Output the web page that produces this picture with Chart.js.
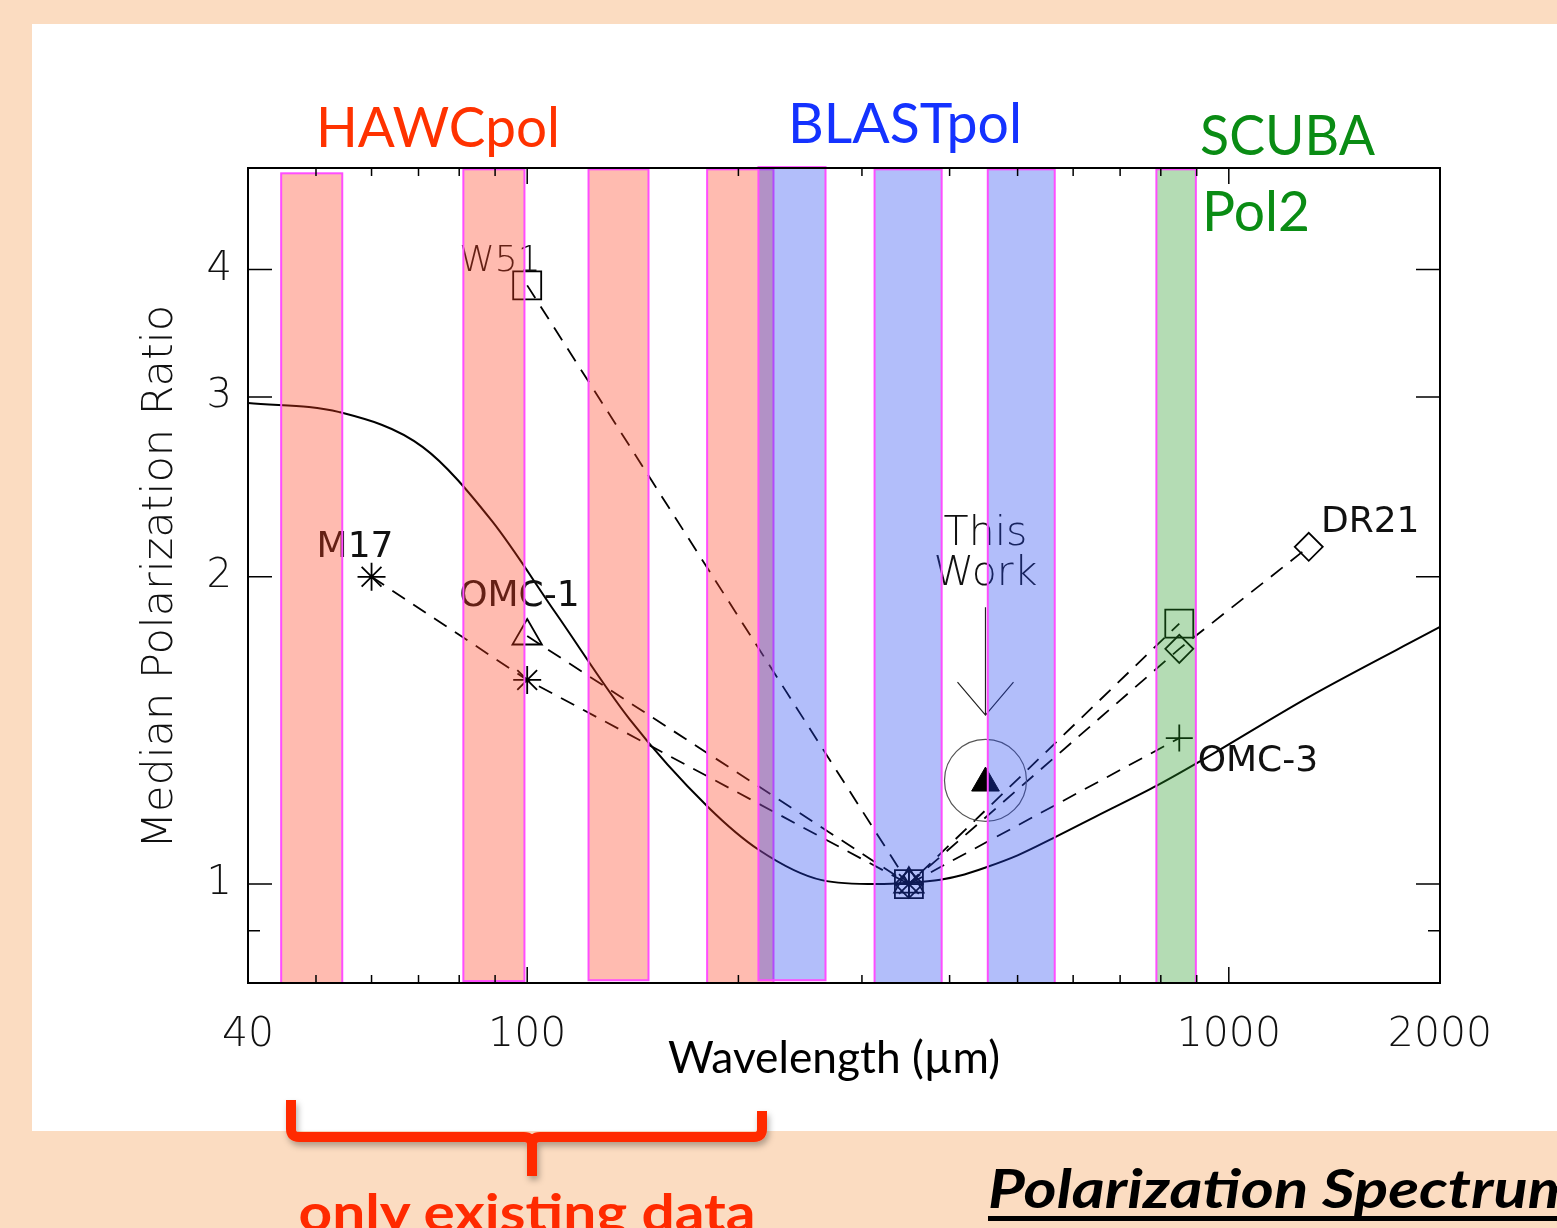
<!DOCTYPE html>
<html>
<head>
<meta charset="utf-8">
<title>Polarization Spectrum</title>
<script src="https://cdn.jsdelivr.net/npm/chart.js@4"></script>
<style>
  body{margin:0;width:1557px;height:1228px;overflow:hidden;position:relative;background:#fbdcc1;}
  #panel{position:absolute;left:32px;top:24px;width:1525px;height:1107px;background:#fff;}
  #wrap{position:absolute;left:0;top:0;width:1557px;height:1228px;}
  #deco{position:absolute;left:0;top:0;pointer-events:none;}
</style>
</head>
<body>
<div id="panel"></div>
<div id="wrap"><canvas id="myChart"></canvas></div>
<svg id="deco" width="1557" height="1228" xmlns="http://www.w3.org/2000/svg">
  <defs>
    <filter id="sh" x="-10%" y="-20%" width="130%" height="160%">
      <feDropShadow dx="2" dy="4" stdDeviation="3" flood-color="#000" flood-opacity="0.3"/>
    </filter>
  </defs>
  <g font-family="Lato, 'Open Sans', sans-serif">
    <text x="316" y="147" font-size="57" fill="#ff3200" textLength="244" lengthAdjust="spacingAndGlyphs">HAWCpol</text>
    <text x="788" y="143" font-size="57" fill="#1432ff" textLength="234" lengthAdjust="spacingAndGlyphs">BLASTpol</text>
    <text x="1200" y="155" font-size="57" fill="#0a8c14" textLength="175" lengthAdjust="spacingAndGlyphs">SCUBA</text>
    <text x="1202" y="231" font-size="57" fill="#0a8c14" textLength="108" lengthAdjust="spacingAndGlyphs">Pol2</text>
    <text x="668" y="1073" font-size="44" fill="#000" textLength="332" lengthAdjust="spacingAndGlyphs">Wavelength (µm)</text>
    <path d="M291,1100 V1129 Q291,1137 299,1137 H524 Q532,1137 532,1145 V1176 M532,1145 Q532,1137 540,1137 H754 Q762,1137 762,1129 V1111"
          fill="none" stroke="#ff2a00" stroke-width="10" stroke-linejoin="round" filter="url(#sh)"/>
    <text x="527" y="1231" text-anchor="middle" font-size="52" font-weight="bold" fill="#ff2a00" textLength="457" lengthAdjust="spacingAndGlyphs">only existing data</text>
    <text x="988" y="1208" font-size="53" font-weight="bold" font-style="italic" fill="#000" textLength="590" lengthAdjust="spacingAndGlyphs">Polarization Spectrum</text>
    <rect x="988" y="1216" width="600" height="5" fill="#000"/>
  </g>
</svg>
<script>
//横軸（波長 µm）の目盛り
var xTicks = [40, 50, 60, 70, 80, 90, 100, 200, 300, 400, 500, 600, 700, 800, 900, 1000, 2000];
var xTickLabels = [40, 100, 1000, 2000];
var xMajor = [100, 1000];
//縦軸（偏光比）の目盛り
var yTicks = [0.9, 1, 2, 3, 4];
var yTickLabels = [1, 2, 3, 4];

//モデル曲線（実線）
var modelWl  = [40, 54, 71, 89, 110, 140, 181, 214, 263, 315, 350, 388, 420, 450, 500, 563, 650, 792, 903, 1300, 2000];
var modelVal = [2.96, 2.90, 2.68, 2.27, 1.84, 1.45, 1.19, 1.08, 1.009, 1.0, 1.003, 1.01, 1.022, 1.038, 1.067, 1.11, 1.167, 1.25, 1.315, 1.525, 1.786];

//各天体のデータ（破線）
var w51Wl  = [100, 350, 850];  var w51Val  = [3.86, 1.0, 1.80];
var m17Wl  = [60, 100, 350];   var m17Val  = [2.0, 1.585, 1.0];
var omc1Wl = [100, 350];       var omc1Val = [1.75, 1.0];
var dr21Wl = [350, 850, 1300]; var dr21Val = [1.0, 1.70, 2.14];
var omc3Wl = [350, 850];       var omc3Val = [1.0, 1.39];
//今回の結果
var thisWorkWl = [450]; var thisWorkVal = [1.256];
var arrowWl = [450, 450]; var arrowVal = [1.867, 1.464];

//天体名の位置（左下基準）
var labelText = ['W51', 'M17', 'OMC-1', 'DR21', 'OMC-3'];
var labelWl   = [80.0, 50.1, 80.0, 1353, 903];
var labelVal  = [3.99, 2.09, 1.872, 2.212, 1.29];
var workText = ['This', 'Work'];
var workVal  = [2.148, 1.963];

//観測バンド
var bandLo   = [44.6, 81.1, 122.3, 180.5, 213.6, 312.7, 453.4, 788.5];
var bandHi   = [54.5, 99.1, 148.9, 224.4, 266.2, 389.7, 564.8, 897.5];
var bandTop  = [4.97, 5.015, 5.015, 5.015, 5.04, 5.015, 5.015, 5.015];
var bandBot  = [0.80, 0.8035, 0.805, 0.80, 0.805, 0.80, 0.80, 0.80];
var bandInst = ['HAWC', 'HAWC', 'HAWC', 'HAWC', 'BLAST', 'BLAST', 'BLAST', 'SCUBA'];
var bandFill = {HAWC: 'rgba(255,60,30,0.35)', BLAST: 'rgba(34,68,240,0.35)', SCUBA: 'rgba(40,154,40,0.35)'};

function toPoints(wl, val){
    return wl.map(function(w, i){ return {x: w, y: val[i]}; });
}
//破線の系列を作る
function series(wl, val, style, r){
    return {
        data: toPoints(wl, val),
        borderColor: '#000',
        borderWidth: 1.8,
        borderDash: [15, 10],
        tension: 0,
        pointStyle: style,
        pointRadius: r,
        pointBorderColor: '#000',
        pointBorderWidth: 1.8,
        pointBackgroundColor: 'rgba(0,0,0,0)'
    };
}

//文字・バンド・枠を描くプラグイン
var overlayPlugin = {
    id: 'overlay',
    afterDatasetsDraw: function(chart){
        var ctx = chart.ctx;
        var xs = chart.scales.x, ys = chart.scales.y;
        var a = chart.chartArea;
        ctx.save();
        //天体名
        ctx.fillStyle = '#111';
        ctx.strokeStyle = '#111';
        ctx.textBaseline = 'alphabetic';
        ctx.textAlign = 'left';
        for (var i = 0; i < labelText.length; i++){
            var lx = xs.getPixelForValue(labelWl[i]);
            var ly = ys.getPixelForValue(labelVal[i]);
            if (labelText[i] == 'W51'){
                ctx.font = '200 36px "DejaVu Sans"';
            } else {
                ctx.font = '36px "DejaVu Sans"';
            }
            ctx.fillText(labelText[i], lx, ly);
        }
        //This Work
        ctx.font = '200 41px "DejaVu Sans"';
        ctx.textAlign = 'center';
        var wx = xs.getPixelForValue(thisWorkWl[0]);
        for (var j = 0; j < workText.length; j++){
            ctx.fillText(workText[j], wx, ys.getPixelForValue(workVal[j]));
        }
        //矢印
        var ax = xs.getPixelForValue(arrowWl[0]);
        var ay0 = ys.getPixelForValue(arrowVal[0]);
        var ay1 = ys.getPixelForValue(arrowVal[1]);
        ctx.lineWidth = 1.2;
        ctx.strokeStyle = '#222';
        ctx.beginPath();
        ctx.moveTo(ax, ay0); ctx.lineTo(ax, ay1);
        ctx.moveTo(ax - 28, ay1 - 33); ctx.lineTo(ax, ay1); ctx.lineTo(ax + 28, ay1 - 33);
        ctx.stroke();
        //縦軸タイトル
        ctx.save();
        ctx.translate(172, 577);
        ctx.rotate(-Math.PI / 2);
        ctx.font = '200 43px "DejaVu Sans"';
        ctx.fillStyle = '#111';
        ctx.textAlign = 'center';
        ctx.fillText('Median Polarization Ratio', 0, 0);
        ctx.restore();
        //バンド（半透明で上に重ねる）
        for (var k = 0; k < bandLo.length; k++){
            var x0 = xs.getPixelForValue(bandLo[k]), x1 = xs.getPixelForValue(bandHi[k]);
            var y0 = ys.getPixelForValue(bandTop[k]), y1 = ys.getPixelForValue(bandBot[k]);
            ctx.fillStyle = bandFill[bandInst[k]];
            ctx.fillRect(x0, y0, x1 - x0, y1 - y0);
            ctx.strokeStyle = '#ff4dff';
            ctx.lineWidth = 2;
            ctx.strokeRect(x0, y0, x1 - x0, y1 - y0);
        }
        //枠
        ctx.strokeStyle = '#000';
        ctx.lineWidth = 2;
        ctx.strokeRect(a.left, a.top, a.right - a.left, a.bottom - a.top);
        //目盛り（内向き）
        ctx.lineWidth = 1.5;
        ctx.beginPath();
        xTicks.forEach(function(v){
            var p = xs.getPixelForValue(v);
            var len = xMajor.indexOf(v) >= 0 ? 16 : 8;
            ctx.moveTo(p, a.bottom); ctx.lineTo(p, a.bottom - len);
            ctx.moveTo(p, a.top); ctx.lineTo(p, a.top + len);
        });
        yTicks.forEach(function(v){
            var p = ys.getPixelForValue(v);
            var len = yTickLabels.indexOf(v) >= 0 ? 24 : 12;
            ctx.moveTo(a.left, p); ctx.lineTo(a.left + len, p);
            ctx.moveTo(a.right, p); ctx.lineTo(a.right - len, p);
        });
        ctx.stroke();
        ctx.restore();
    }
};

var ctx = document.getElementById('myChart');
var polChart = new Chart(ctx, {
    type: 'line',
    data: {
        datasets: [
            {
                data: toPoints(thisWorkWl, thisWorkVal),
                showLine: false,
                pointStyle: 'triangle',
                pointRadius: 16,
                pointBackgroundColor: '#000',
                pointBorderColor: '#000',
                pointBorderWidth: 1
            },
            {
                data: toPoints(thisWorkWl, thisWorkVal.map(function(v){ return v * 1.006; })),
                showLine: false,
                pointStyle: 'circle',
                pointRadius: 41,
                pointBackgroundColor: 'rgba(0,0,0,0)',
                pointBorderColor: '#555',
                pointBorderWidth: 1.2
            },
            series(w51Wl, w51Val, 'rect', 19.8),
            series(m17Wl, m17Val, 'star', 14),
            series(omc1Wl, omc1Val, 'triangle', 17),
            series(dr21Wl, dr21Val, 'rectRot', 14),
            series(omc3Wl, omc3Val, 'cross', 13.5),
            {
                data: toPoints(modelWl, modelVal),
                borderColor: '#000',
                borderWidth: 2,
                pointRadius: 0,
                cubicInterpolationMode: 'monotone'
            }
        ]
    },
    options: {
        responsive: true,
        maintainAspectRatio: false,
        animation: false,
        events: [],
        layout: {padding: {top: 168, right: 117, left: 0, bottom: 0}},
        plugins: {legend: {display: false}, tooltip: {enabled: false}},
        scales: {
            x: {
                type: 'logarithmic',
                min: 40,
                max: 2000,
                bounds: 'data',
                grid: {display: false, drawTicks: false},
                border: {display: false},
                afterBuildTicks: function(s){ s.ticks = xTicks.map(function(v){ return {value: v}; }); },
                afterFit: function(s){ s.height = 245; },
                ticks: {
                    autoSkip: false,
                    maxRotation: 0,
                    minRotation: 0,
                    padding: 28,
                    color: '#111',
                    font: {family: 'DejaVu Sans', size: 41, weight: 200},
                    callback: function(v){ return xTickLabels.indexOf(v) >= 0 ? String(v) : ''; }
                }
            },
            y: {
                type: 'logarithmic',
                min: 0.8,
                max: 5.03,
                bounds: 'data',
                grid: {display: false, drawTicks: false},
                border: {display: false},
                afterBuildTicks: function(s){ s.ticks = yTicks.map(function(v){ return {value: v}; }); },
                afterFit: function(s){ s.width = 248; },
                ticks: {
                    autoSkip: false,
                    padding: 16,
                    color: '#111',
                    font: {family: 'DejaVu Sans', size: 40, weight: 200},
                    callback: function(v){ return yTickLabels.indexOf(v) >= 0 ? String(v) : ''; }
                }
            }
        }
    },
    plugins: [overlayPlugin]
});
</script>
</body>
</html>
